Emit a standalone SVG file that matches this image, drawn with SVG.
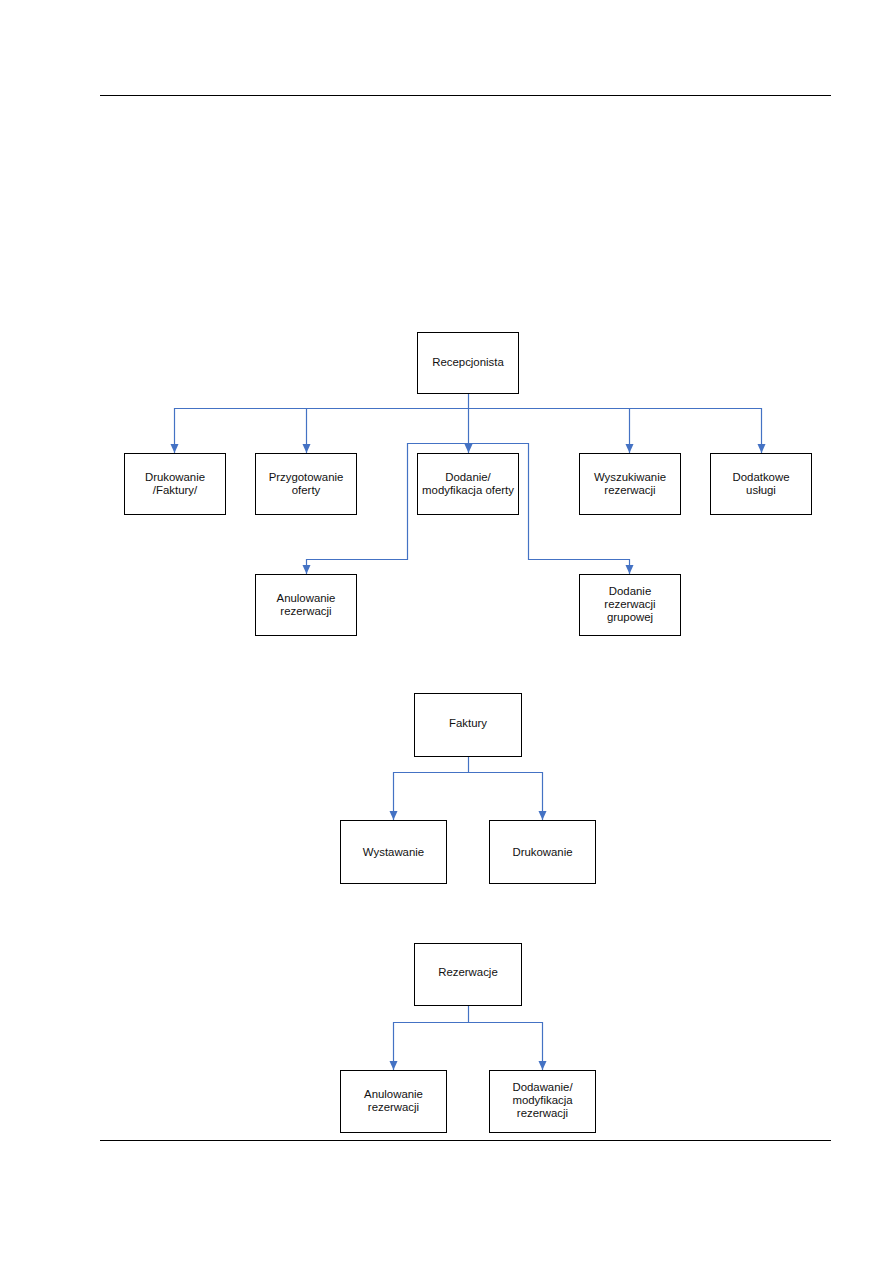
<svg xmlns="http://www.w3.org/2000/svg" width="893" height="1263" viewBox="0 0 893 1263">
<style>
.box{fill:#fff;stroke:#000;stroke-width:1}
.t{font-family:"Liberation Sans",Arial,sans-serif;font-size:11.4px;fill:#111;text-anchor:middle}
.c{fill:none;stroke:#4472C4;stroke-width:1.2}
.rule{stroke:#000;stroke-width:1}
</style>
<defs>
<marker id="ah" markerUnits="userSpaceOnUse" markerWidth="10" markerHeight="10" viewBox="0 0 10 10" refX="9" refY="5" orient="auto">
<path d="M0,1 L9,5 L0,9 Z" fill="#4472C4"/>
</marker>
</defs>
<rect width="893" height="1263" fill="#fff"/>
<line class="rule" x1="100" y1="95.5" x2="831" y2="95.5"/>
<line class="rule" x1="100" y1="1140.5" x2="831" y2="1140.5"/>
<g id="connectors">
<path class="c" d="M468.5,393 V408.5 H174.5 V453" marker-end="url(#ah)"/>
<path class="c" d="M306.5,408.5 V453" marker-end="url(#ah)"/>
<path class="c" d="M468.5,408.5 V453" marker-end="url(#ah)"/>
<path class="c" d="M468.5,408.5 H761.5 V453" marker-end="url(#ah)"/>
<path class="c" d="M629.5,408.5 V453" marker-end="url(#ah)"/>
<path class="c" d="M468.5,443.5 H407.5 V559.5 H306.5 V574" marker-end="url(#ah)"/>
<path class="c" d="M468.5,443.5 H528.5 V559.5 H629.5 V574" marker-end="url(#ah)"/>
<path class="c" d="M468.5,757 V772.5 H393.5 V820" marker-end="url(#ah)"/>
<path class="c" d="M468.5,772.5 H542.5 V820" marker-end="url(#ah)"/>
<path class="c" d="M468.5,1006 V1022.5 H393.5 V1070" marker-end="url(#ah)"/>
<path class="c" d="M468.5,1022.5 H542.5 V1070" marker-end="url(#ah)"/>
</g>
<g id="recepcjonista"><rect class="box" x="417.5" y="332.5" width="101" height="61"/><text class="t" x="468" y="366">Recepcjonista</text></g>
<g id="drukowanie-faktury"><rect class="box" x="124.5" y="453.5" width="101" height="61"/><text class="t" x="175" y="481">Drukowanie</text><text class="t" x="175" y="494">/Faktury/</text></g>
<g id="przygotowanie-oferty"><rect class="box" x="255.5" y="453.5" width="101" height="61"/><text class="t" x="306" y="481">Przygotowanie</text><text class="t" x="306" y="494">oferty</text></g>
<g id="dodanie-modyfikacja-oferty"><rect class="box" x="417.5" y="453.5" width="101" height="61"/><text class="t" x="468" y="481">Dodanie/</text><text class="t" x="468" y="494">modyfikacja oferty</text></g>
<g id="wyszukiwanie-rezerwacji"><rect class="box" x="579.5" y="453.5" width="101" height="61"/><text class="t" x="630" y="481">Wyszukiwanie</text><text class="t" x="630" y="494">rezerwacji</text></g>
<g id="dodatkowe-uslugi"><rect class="box" x="710.5" y="453.5" width="101" height="61"/><text class="t" x="761" y="481">Dodatkowe</text><text class="t" x="761" y="494">usługi</text></g>
<g id="anulowanie-rezerwacji-1"><rect class="box" x="255.5" y="574.5" width="101" height="61"/><text class="t" x="306" y="602">Anulowanie</text><text class="t" x="306" y="615">rezerwacji</text></g>
<g id="dodanie-rezerwacji-grupowej"><rect class="box" x="579.5" y="574.5" width="101" height="61"/><text class="t" x="630" y="595">Dodanie</text><text class="t" x="630" y="608">rezerwacji</text><text class="t" x="630" y="621">grupowej</text></g>
<g id="faktury"><rect class="box" x="414.5" y="693.5" width="107" height="63"/><text class="t" x="468" y="727">Faktury</text></g>
<g id="wystawanie"><rect class="box" x="340.5" y="820.5" width="106" height="63"/><text class="t" x="393.5" y="856">Wystawanie</text></g>
<g id="drukowanie"><rect class="box" x="489.5" y="820.5" width="106" height="63"/><text class="t" x="542.5" y="856">Drukowanie</text></g>
<g id="rezerwacje"><rect class="box" x="414.5" y="943.5" width="107" height="62"/><text class="t" x="468" y="976">Rezerwacje</text></g>
<g id="anulowanie-rezerwacji-2"><rect class="box" x="340.5" y="1070.5" width="106" height="62"/><text class="t" x="393.5" y="1098">Anulowanie</text><text class="t" x="393.5" y="1111">rezerwacji</text></g>
<g id="dodawanie-modyfikacja-rezerwacji"><rect class="box" x="489.5" y="1070.5" width="106" height="62"/><text class="t" x="542.5" y="1091">Dodawanie/</text><text class="t" x="542.5" y="1104">modyfikacja</text><text class="t" x="542.5" y="1117">rezerwacji</text></g>
</svg>
